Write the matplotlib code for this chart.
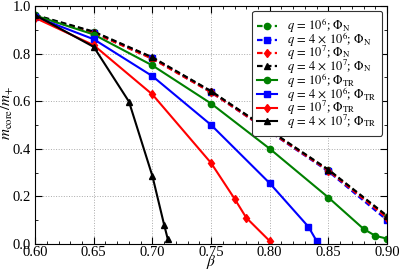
import matplotlib
matplotlib.use("Agg")
import matplotlib.pyplot as plt
import numpy as np
from matplotlib.ticker import MultipleLocator, FormatStrFormatter

plt.rcParams['font.family'] = ['Liberation Serif', 'DejaVu Serif']
plt.rcParams['mathtext.fontset'] = 'stix'

# -- data
beta_n = [0.60, 0.65, 0.70, 0.75, 0.85, 0.90]
n_1e6 = [0.960, 0.890, 0.782, 0.640, 0.310, 0.115]
n_4e6 = [0.958, 0.888, 0.780, 0.638, 0.305, 0.100]
n_1e7 = [0.957, 0.887, 0.778, 0.637, 0.308, 0.110]
n_4e7 = [0.962, 0.892, 0.784, 0.642, 0.312, 0.118]

beta_tr_1e6 = [0.60, 0.65, 0.70, 0.75, 0.80, 0.85, 0.88, 0.89, 0.90]
tr_1e6 = [0.960, 0.880, 0.750, 0.590, 0.400, 0.195, 0.063, 0.034, 0.022]
beta_tr_4e6 = [0.60, 0.65, 0.70, 0.75, 0.80, 0.833, 0.84]
tr_4e6 = [0.955, 0.860, 0.705, 0.500, 0.255, 0.072, 0.012]
beta_tr_1e7 = [0.60, 0.65, 0.70, 0.75, 0.77, 0.78, 0.80]
tr_1e7 = [0.950, 0.835, 0.628, 0.340, 0.190, 0.110, 0.012]
beta_tr_4e7 = [0.60, 0.65, 0.68, 0.70, 0.71, 0.713]
tr_4e7 = [0.962, 0.828, 0.598, 0.285, 0.080, 0.022]

colors = ['green', 'blue', 'red', 'black']
markers = ['o', 's', 'd', '^']
qlabels = [r'$q\,=\,10^6$', r'$q\,=\,4\,\times\,10^6$', r'$q\,=\,10^7$', r'$q\,=\,4\,\times\,10^7$']

fig = plt.figure(figsize=(3.99, 2.71), dpi=100)
ax = fig.add_axes([0.088, 0.10, 0.882, 0.878])

# -- Newtonian potential runs (dashed)
n_series = [n_1e6, n_4e6, n_1e7, n_4e7]
for i in range(4):
    ax.plot(beta_n, n_series[i], color=colors[i], marker=markers[i], ms=4.5,
            ls='--', dashes=(2.5, 1.5), lw=1.6,
            label=qlabels[i] + r'; $\Phi_{\rm N}$')

# -- TR potential runs (solid)
tr_series = [(beta_tr_1e6, tr_1e6), (beta_tr_4e6, tr_4e6), (beta_tr_1e7, tr_1e7), (beta_tr_4e7, tr_4e7)]
for i in range(4):
    ax.plot(tr_series[i][0], tr_series[i][1], color=colors[i], marker=markers[i], ms=4.5,
            ls='-', lw=1.5, label=qlabels[i] + r'; $\Phi_{\rm TR}$')

ax.set_xlim(0.60, 0.90)
ax.set_ylim(0.0, 1.0)
ax.xaxis.set_major_locator(MultipleLocator(0.05))
ax.xaxis.set_minor_locator(MultipleLocator(0.01))
ax.yaxis.set_major_locator(MultipleLocator(0.2))
ax.yaxis.set_minor_locator(MultipleLocator(0.1))
ax.xaxis.set_major_formatter(FormatStrFormatter('%.2f'))
ax.yaxis.set_major_formatter(FormatStrFormatter('%.1f'))
ax.tick_params(which='both', direction='in', top=True, right=True, labelsize=10.5)
ax.tick_params(which='major', length=5)
ax.tick_params(which='minor', length=2.5)
ax.tick_params(axis='x', pad=1.5)
ax.tick_params(axis='y', pad=3)
ax.grid(True, which='major', ls=':', color='#aaaaaa', lw=0.7)

ax.set_xlabel(r'$\beta$', fontsize=11)
ax.set_ylabel(r'$m_{\rm core}/m_{+}$', fontsize=11)
ax.xaxis.set_label_coords(0.5, -0.076)
ax.yaxis.set_label_coords(-0.078, 0.55)
ax.xaxis.label.set_va('center')
ax.yaxis.label.set_va('center')

leg = ax.legend(loc='upper right', fontsize=9, handlelength=1.6, handletextpad=0.8,
                labelspacing=-0.38, borderpad=0.42, borderaxespad=0.4,
                framealpha=1.0, edgecolor='#333333', fancybox=True)
leg.get_frame().set_linewidth(0.8)

fig.savefig('out.png', dpi=100)
